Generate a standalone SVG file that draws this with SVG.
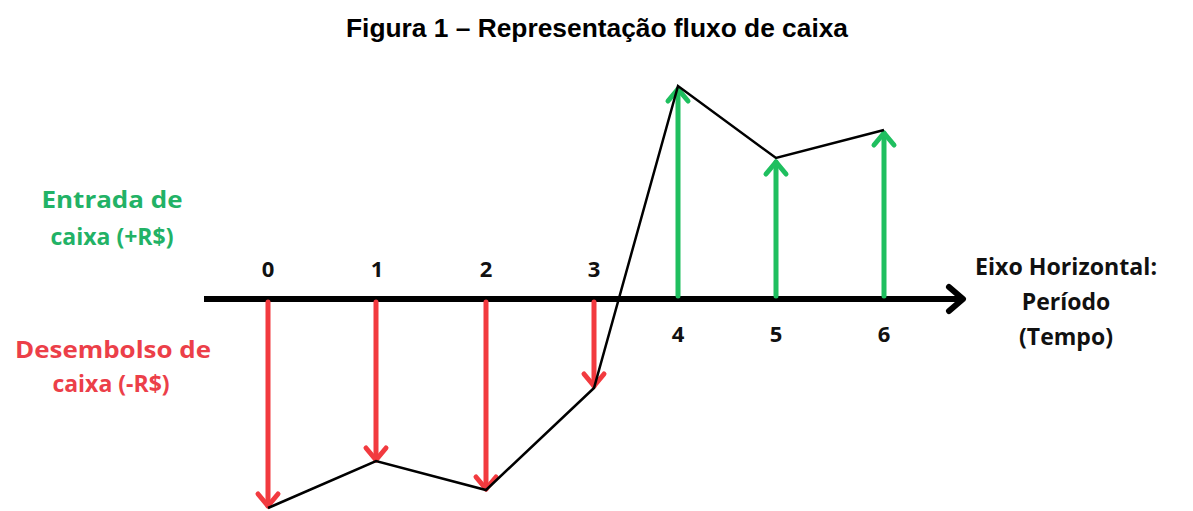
<svg xmlns="http://www.w3.org/2000/svg" width="1193" height="511" viewBox="0 0 1193 511">
<style>
.title{font-family:"Liberation Sans",Arial,sans-serif;font-weight:bold;font-size:25px;fill:#000}
.lbl{font-family:"Open Sans","Noto Sans",sans-serif;font-weight:bold;font-size:23px}
.num{font-family:"Open Sans","Noto Sans",sans-serif;font-weight:bold;font-size:22px;fill:#111}
.red{stroke:#f23a3f;stroke-width:5;fill:none;stroke-linecap:round;stroke-linejoin:round}
.grn{stroke:#1fbf5f;stroke-width:5;fill:none;stroke-linecap:round;stroke-linejoin:round}
</style>
<rect width="1193" height="511" fill="#fff"/>
<text class="title" x="597" y="37" text-anchor="middle" textLength="502" lengthAdjust="spacingAndGlyphs">Figura 1 – Representação fluxo de caixa</text>
<g id="connectors">
<g id="axis">
<line x1="204" y1="299" x2="962" y2="299" stroke="#000" stroke-width="6"/>
<polyline points="949,287 963,299 949,311" fill="none" stroke="#000" stroke-width="6" stroke-linecap="round" stroke-linejoin="round"/>
</g>
<g id="outflows">
<line class="red" x1="268" y1="302" x2="268" y2="506"/>
<polyline class="red" points="258,494 268,506 278,494"/>
<line class="red" x1="376" y1="302" x2="376" y2="460"/>
<polyline class="red" points="366,448 376,460 386,448"/>
<line class="red" x1="486" y1="302" x2="486" y2="489"/>
<polyline class="red" points="476,477 486,489 496,477"/>
<line class="red" x1="594" y1="302" x2="594" y2="386"/>
<polyline class="red" points="584,374 594,386 604,374"/>
</g>
<g id="inflows">
<line class="grn" x1="678" y1="296" x2="678" y2="89"/>
<polyline class="grn" points="668,101 678,89 688,101"/>
<line class="grn" x1="776" y1="296" x2="776" y2="162"/>
<polyline class="grn" points="766,174 776,162 786,174"/>
<line class="grn" x1="884" y1="296" x2="884" y2="133"/>
<polyline class="grn" points="874,145 884,133 894,145"/>
</g>
<polyline id="balance" points="268,508 376,461 486,490 594,388 678,86 776,158 884,130" fill="none" stroke="#000" stroke-width="2.5" stroke-linejoin="miter"/>
</g>
<g id="ticks-top">
<text class="num" x="268" y="277" text-anchor="middle">0</text>
<text class="num" x="377" y="277" text-anchor="middle">1</text>
<text class="num" x="486" y="277" text-anchor="middle">2</text>
<text class="num" x="594" y="277" text-anchor="middle">3</text>
</g>
<g id="ticks-bottom">
<text class="num" x="678" y="342" text-anchor="middle">4</text>
<text class="num" x="776" y="342" text-anchor="middle">5</text>
<text class="num" x="884" y="342" text-anchor="middle">6</text>
</g>
<g id="inflow-label">
<text class="lbl" fill="#22b266" x="112" y="208" text-anchor="middle" textLength="141" lengthAdjust="spacingAndGlyphs">Entrada de</text>
<text class="lbl" fill="#22b266" x="112" y="245" text-anchor="middle">caixa (+R$)</text>
</g>
<g id="outflow-label">
<text class="lbl" fill="#ec3f49" x="113" y="358" text-anchor="middle" textLength="196" lengthAdjust="spacingAndGlyphs">Desembolso de</text>
<text class="lbl" fill="#ec3f49" x="111" y="392" text-anchor="middle">caixa (-R$)</text>
</g>
<g id="axis-label">
<text class="lbl" fill="#111" x="1066" y="275" text-anchor="middle" textLength="182" lengthAdjust="spacingAndGlyphs">Eixo Horizontal:</text>
<text class="lbl" fill="#111" x="1066" y="310" text-anchor="middle">Período</text>
<text class="lbl" fill="#111" x="1066" y="345" text-anchor="middle">(Tempo)</text>
</g>
</svg>
